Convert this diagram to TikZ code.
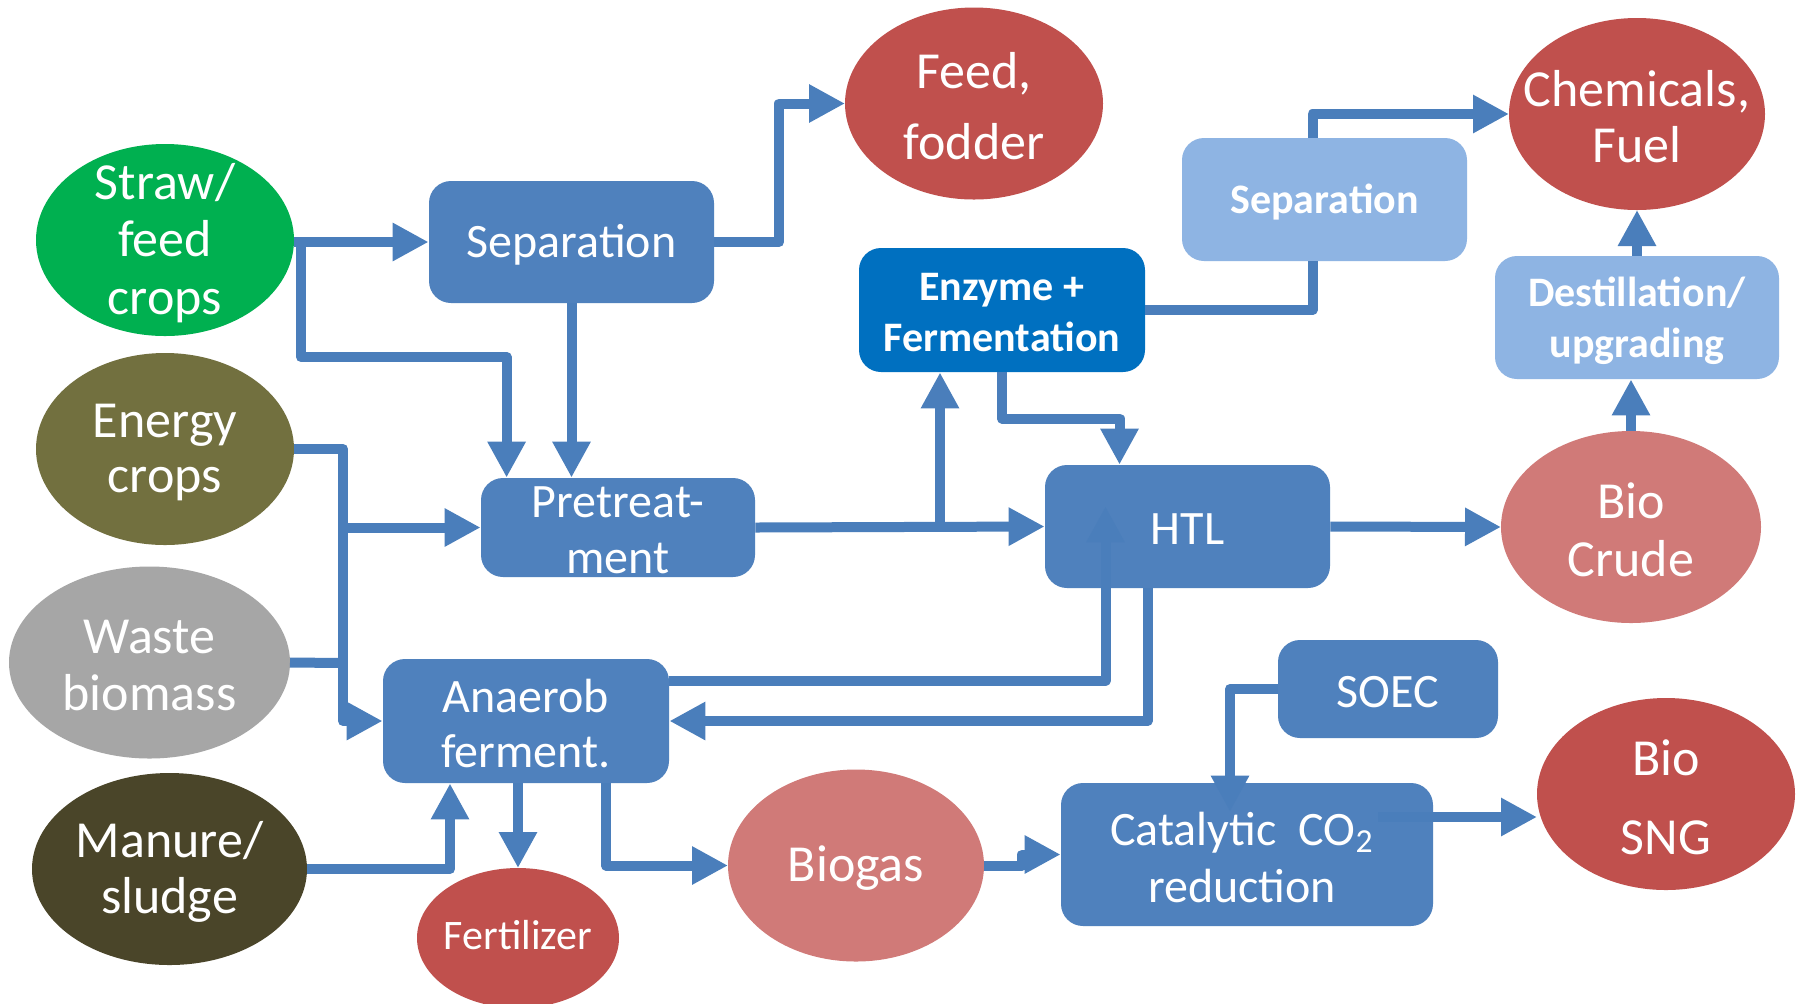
\documentclass[tikz,border=0pt]{standalone}
\usepackage{fontspec}
\setmainfont{Carlito}
\usetikzlibrary{shapes.geometric,arrows.meta,calc}

\definecolor{procblue}{HTML}{4F81BD}
\definecolor{enzblue}{HTML}{0070C0}
\definecolor{lightproc}{HTML}{8EB4E3}
\definecolor{flowblue}{HTML}{4A7EBB}
\definecolor{prodred}{HTML}{C0504D}
\definecolor{lightred}{HTML}{D07A78}
\definecolor{strawgreen}{HTML}{00B050}
\definecolor{energyolive}{HTML}{72703F}
\definecolor{wastegrey}{HTML}{A6A6A6}
\definecolor{manurebrown}{HTML}{4A4529}

\begin{document}
\begin{tikzpicture}[x=0.5pt,y=-0.5pt,
  src/.style={ellipse,inner sep=0pt,outer sep=0pt,minimum width=129pt,minimum height=96pt},
  proc/.style={rectangle,rounded corners=11pt,inner sep=0pt,fill=procblue,minimum width=142.5pt,minimum height=61.5pt},
  lbl/.style={text=white,align=center,inner sep=0pt,yshift=-1.5pt},
  srctxt/.style={lbl,font=\fontsize{26}{#1}\selectfont},
  proctxt/.style={lbl,font=\fontsize{24}{#1}\selectfont},
  boldtxt/.style={lbl,font=\bfseries\fontsize{21}{#1}\selectfont},
  flow/.style={draw=flowblue,line width=5pt,line join=round,-{Triangle[length=18pt,width=18pt]}},
  pipe/.style={draw=flowblue,line width=5pt,line join=round}]
\path[use as bounding box,fill=white] (0,0) rectangle (1804,1003);

% biomass sources
\node[src,fill=strawgreen,label={[srctxt=28.75]center:{Straw/\\feed\\crops}}] (straw) at (165,240) {};
\node[src,fill=energyolive,label={[srctxt=27.5]center:{Energy\\crops}}] (energy) at (165,449) {};
\node[src,fill=wastegrey,minimum width=140.5pt,label={[srctxt=28.5]center:{Waste\\biomass}}] (waste) at (149.5,662.5) {};
\node[src,fill=manurebrown,minimum width=137.5pt,label={[srctxt=28]center:{Manure/\\sludge}}] (manure) at (169.5,869) {};

% products
\node[src,fill=prodred,label={[srctxt=35.5]center:{Feed,\\fodder}}] (feed) at (974,103.5) {};
\node[src,fill=prodred,minimum width=128pt,label={[srctxt=28]center:{Chemicals,\\Fuel}}] (chem) at (1637,114) {};
\node[src,fill=lightred,minimum width=130pt,label={[srctxt=29]center:{Bio\\Crude}}] (crude) at (1631,527) {};
\node[src,fill=prodred,label={[srctxt=39.5]center:{Bio\\SNG}}] (sng) at (1666,794) {};
\node[src,fill=lightred,minimum width=128pt,label={[srctxt=28]center:{Biogas}}] (biogas) at (856,865.5) {};
\node[src,fill=prodred,minimum width=101pt,minimum height=70pt,label={[lbl,font=\fontsize{21}{25}\selectfont,yshift=3pt]center:{Fertilizer}}] (fert) at (518,938) {};

% processes
\node[proc,minimum height=61pt,label={[proctxt=28]center:{Separation}}] (sep1) at (571.5,242) {};
\node[proc,minimum width=137pt,minimum height=49.5pt,label={[proctxt=28]center:{Pretreat-\\ment}}] (pre) at (618,527.5) {};
\node[proc,minimum width=143pt,minimum height=62pt,label={[proctxt=27.5]center:{Anaerob\\ferment.}}] (anaer) at (526,721) {};
\node[proc,fill=enzblue,minimum width=143pt,minimum height=62pt,label={[boldtxt=25.5]center:{Enzyme +\\Fermentation}}] (enz) at (1002,310) {};
\node[proc,fill=lightproc,label={[boldtxt=25.5]center:{Separation}}] (sep2) at (1324.5,199.5) {};
\node[proc,fill=lightproc,minimum width=142pt,label={[boldtxt=25.5]center:{Destillation/\\upgrading}}] (dest) at (1637,317.5) {};
\node[proc,label={[proctxt=28]center:{HTL}}] (htl) at (1187.5,526.5) {};
\node[proc,minimum width=110pt,minimum height=49pt,label={[proctxt=28]center:{SOEC}}] (soec) at (1388,689) {};
\node[proc,minimum width=186pt,minimum height=71.5pt,label={[proctxt=28.75,xshift=-2.5pt]center:{Catalytic\ \ CO\textsubscript{2}\\reduction}}] (cat) at (1247,854.5) {};

% junctions and free ends
\coordinate (jS) at (301,357);
\coordinate (jW) at (343,663);
\coordinate (jF) at (779,170);
\coordinate (eIn) at ([xshift=-31pt]enz.south);
\coordinate (hIn) at ([xshift=-34pt]htl.north);
\coordinate (hUp) at ([xshift=-41pt,yshift=41pt]htl.south);
\coordinate (cIn) at ([xshift=-8.5pt,yshift=-14.5pt]cat.north);
\coordinate (cOut) at ([xshift=-27.5pt,yshift=18.75pt]cat.east);

% flows
\draw[flow] (sep1.west -| straw.east) -- (sep1.west);
\draw[flow] (jS |- sep1.west) -- (jS) -| ([xshift=13pt]pre.north west);
\draw[flow] (sep1.south) -- (sep1.south |- pre.north);
\draw[flow] (sep1.east) -| (jF) |- (feed.west);
\draw[pipe] (energy.east) -| (jW);
\draw[pipe] (waste.east) -- (jW);
\draw[flow] (jW) |- (pre.west);
\draw[flow] (jW) |- (anaer.west);
\draw[flow] (manure.east) -| ([xshift=-38pt]anaer.south);
\draw[flow] (fert.north |- anaer.south) -- (fert.north);
\draw[flow] ([xshift=40pt]anaer.south) |- (biogas.west);
\draw[flow] (pre.east) -- (htl.west);
\draw[flow] (eIn |- pre.east) -- (eIn);
\draw[flow] (enz.south) |- ($(enz.south)!.5!(hIn)$) -| (hIn);
\draw[pipe] (enz.east) -| ([xshift=-6pt]sep2.south);
\draw[flow] ([xshift=-6pt]sep2.north) |- (chem.west);
\draw[flow] (dest.north) -- (chem.south);
\draw[flow] (crude.north) -- (crude.north |- dest.south);
\draw[flow] (htl.east) -- (crude.west);
\draw[flow] ([yshift=-11pt]anaer.north east) -| (hUp);
\draw[flow] ([xshift=-20pt]htl.south) |- (anaer.east);
\draw[flow] (biogas.east) -| ($(biogas.east)!.5!(cat.west)$) |- (cat.west);
\draw[flow] (soec.west) -| (cIn);
\draw[flow] (cOut) -- (cOut -| sng.west);
\end{tikzpicture}
\end{document}
